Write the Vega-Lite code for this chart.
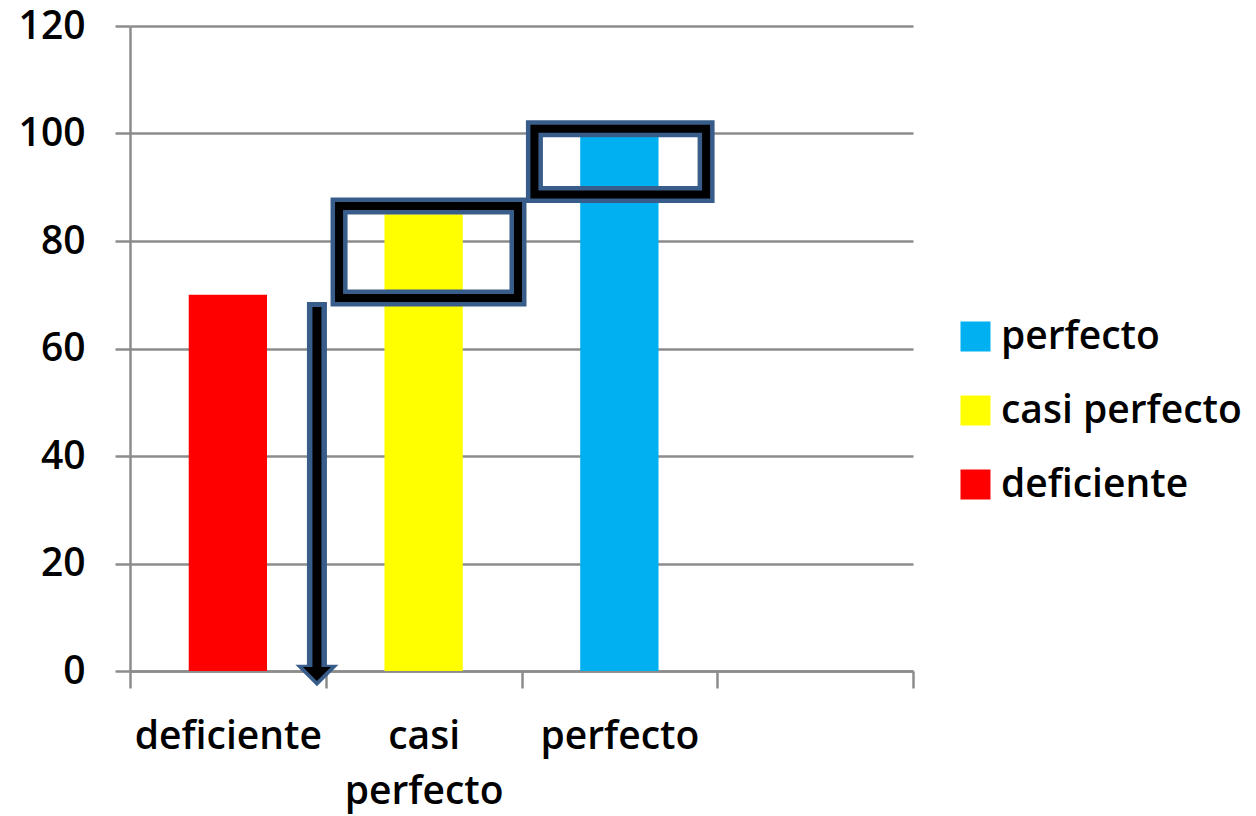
{
  "$schema": "https://vega.github.io/schema/vega-lite/v6.json",
  "width": 783,
  "height": 645,
  "autosize": "none",
  "padding": {"left": 130, "top": 26, "right": 343, "bottom": 145},
  "background": "white",
  "config": {
    "view": {"stroke": null},
    "font": "Open Sans"
  },
  "datasets": {
    "bars": [
      {"cat": "deficiente", "value": 70},
      {"cat": "casi perfecto", "value": 85},
      {"cat": "perfecto", "value": 100}
    ],
    "boxes": [
      {"x": 1.068, "x2": 1.982, "y": 86.5, "y2": 69.4},
      {"x": 2.066, "x2": 2.943, "y": 100.9, "y2": 88.65}
    ],
    "shaft": [
      {"part": "outer", "x": 0.955, "y": 68.65, "y2": 0.2},
      {"part": "inner", "x": 0.955, "y": 67.7, "y2": -0.7}
    ],
    "head": [
      {"part": "outer", "x": 0.955, "y": -0.84},
      {"part": "inner", "x": 0.955, "y": -0.56}
    ]
  },
  "layer": [
    {
      "data": {"name": "bars"},
      "mark": {"type": "bar", "width": {"band": 0.4}},
      "encoding": {
        "x": {
          "field": "cat",
          "type": "nominal",
          "sort": null,
          "scale": {"domain": ["deficiente", "casi perfecto", "perfecto", "_"], "paddingInner": 0, "paddingOuter": 0},
          "axis": {
            "title": null,
            "labelAngle": 0,
            "tickBand": "extent",
            "tickSize": 17,
            "tickColor": "#8c8c8c",
            "tickWidth": 2.5,
            "domainColor": "#8c8c8c",
            "domainWidth": 2.5,
            "labelFontSize": 39,
            "labelFontWeight": 600,
            "labelColor": "black",
            "labelPadding": 29,
            "labelLineHeight": 55,
            "labelLimit": 0,
            "labelExpr": "datum.value == '_' ? '' : (datum.value == 'casi perfecto' ? ['casi', 'perfecto'] : datum.label)",
            "grid": false
          }
        },
        "y": {
          "field": "value",
          "type": "quantitative",
          "scale": {"domain": [0, 120], "nice": false},
          "axis": {
            "title": null,
            "grid": true,
            "gridColor": "#8c8c8c",
            "gridWidth": 2.5,
            "values": [0, 20, 40, 60, 80, 100, 120],
            "tickSize": 15,
            "tickColor": "#8c8c8c",
            "tickWidth": 2.5,
            "domainColor": "#8c8c8c",
            "domainWidth": 2.5,
            "labelFontSize": 39,
            "labelFontWeight": 600,
            "labelPadding": 30,
            "labelColor": "black"
          }
        },
        "color": {
          "field": "cat",
          "type": "nominal",
          "scale": {"domain": ["perfecto", "casi perfecto", "deficiente"], "range": ["#00B0F0", "#FFFF00", "#FF0000"]},
          "legend": {
            "title": null,
            "orient": "none",
            "legendX": 826,
            "legendY": 291,
            "symbolType": "square",
            "symbolSize": 900,
            "symbolStrokeWidth": 0,
            "labelFontSize": 39,
            "labelFontWeight": 600,
            "labelColor": "black",
            "labelOffset": 6,
            "rowPadding": 34,
            "labelLimit": 0
          }
        }
      }
    },
    {
      "layer": [
        {
          "data": {"name": "boxes"},
          "mark": {"type": "rect", "filled": false, "stroke": "#385D8A", "strokeWidth": 17},
          "encoding": {
            "x": {"field": "x", "type": "quantitative", "scale": {"domain": [0, 4], "nice": false, "zero": false}, "axis": null},
            "x2": {"field": "x2"},
            "y": {"field": "y", "type": "quantitative", "scale": {"domain": [0, 120], "nice": false}},
            "y2": {"field": "y2"}
          }
        },
        {
          "data": {"name": "boxes"},
          "mark": {"type": "rect", "filled": false, "stroke": "black", "strokeWidth": 8},
          "encoding": {
            "x": {"field": "x", "type": "quantitative", "axis": null},
            "x2": {"field": "x2"},
            "y": {"field": "y", "type": "quantitative"},
            "y2": {"field": "y2"}
          }
        },
        {
          "data": {"name": "shaft"},
          "transform": [{"filter": "datum.part == 'outer'"}],
          "mark": {"type": "rule", "stroke": "#385D8A", "strokeWidth": 20, "strokeCap": "butt"},
          "encoding": {
            "x": {"field": "x", "type": "quantitative", "axis": null},
            "y": {"field": "y", "type": "quantitative"},
            "y2": {"field": "y2"}
          }
        },
        {
          "data": {"name": "head"},
          "transform": [{"filter": "datum.part == 'outer'"}],
          "mark": {"type": "point", "shape": "M-1,-0.5L1,-0.5L0,0.5Z", "filled": true, "fill": "#385D8A", "opacity": 1, "size": 1849, "strokeWidth": 0},
          "encoding": {
            "x": {"field": "x", "type": "quantitative", "axis": null},
            "y": {"field": "y", "type": "quantitative"}
          }
        },
        {
          "data": {"name": "head"},
          "transform": [{"filter": "datum.part == 'inner'"}],
          "mark": {"type": "point", "shape": "M-1,-0.5L1,-0.5L0,0.5Z", "filled": true, "fill": "black", "opacity": 1, "size": 784, "strokeWidth": 0},
          "encoding": {
            "x": {"field": "x", "type": "quantitative", "axis": null},
            "y": {"field": "y", "type": "quantitative"}
          }
        },
        {
          "data": {"name": "shaft"},
          "transform": [{"filter": "datum.part == 'inner'"}],
          "mark": {"type": "rule", "stroke": "black", "strokeWidth": 9, "strokeCap": "butt"},
          "encoding": {
            "x": {"field": "x", "type": "quantitative", "axis": null},
            "y": {"field": "y", "type": "quantitative"},
            "y2": {"field": "y2"}
          }
        }
      ]
    }
  ],
  "resolve": {"scale": {"x": "independent"}}
}
